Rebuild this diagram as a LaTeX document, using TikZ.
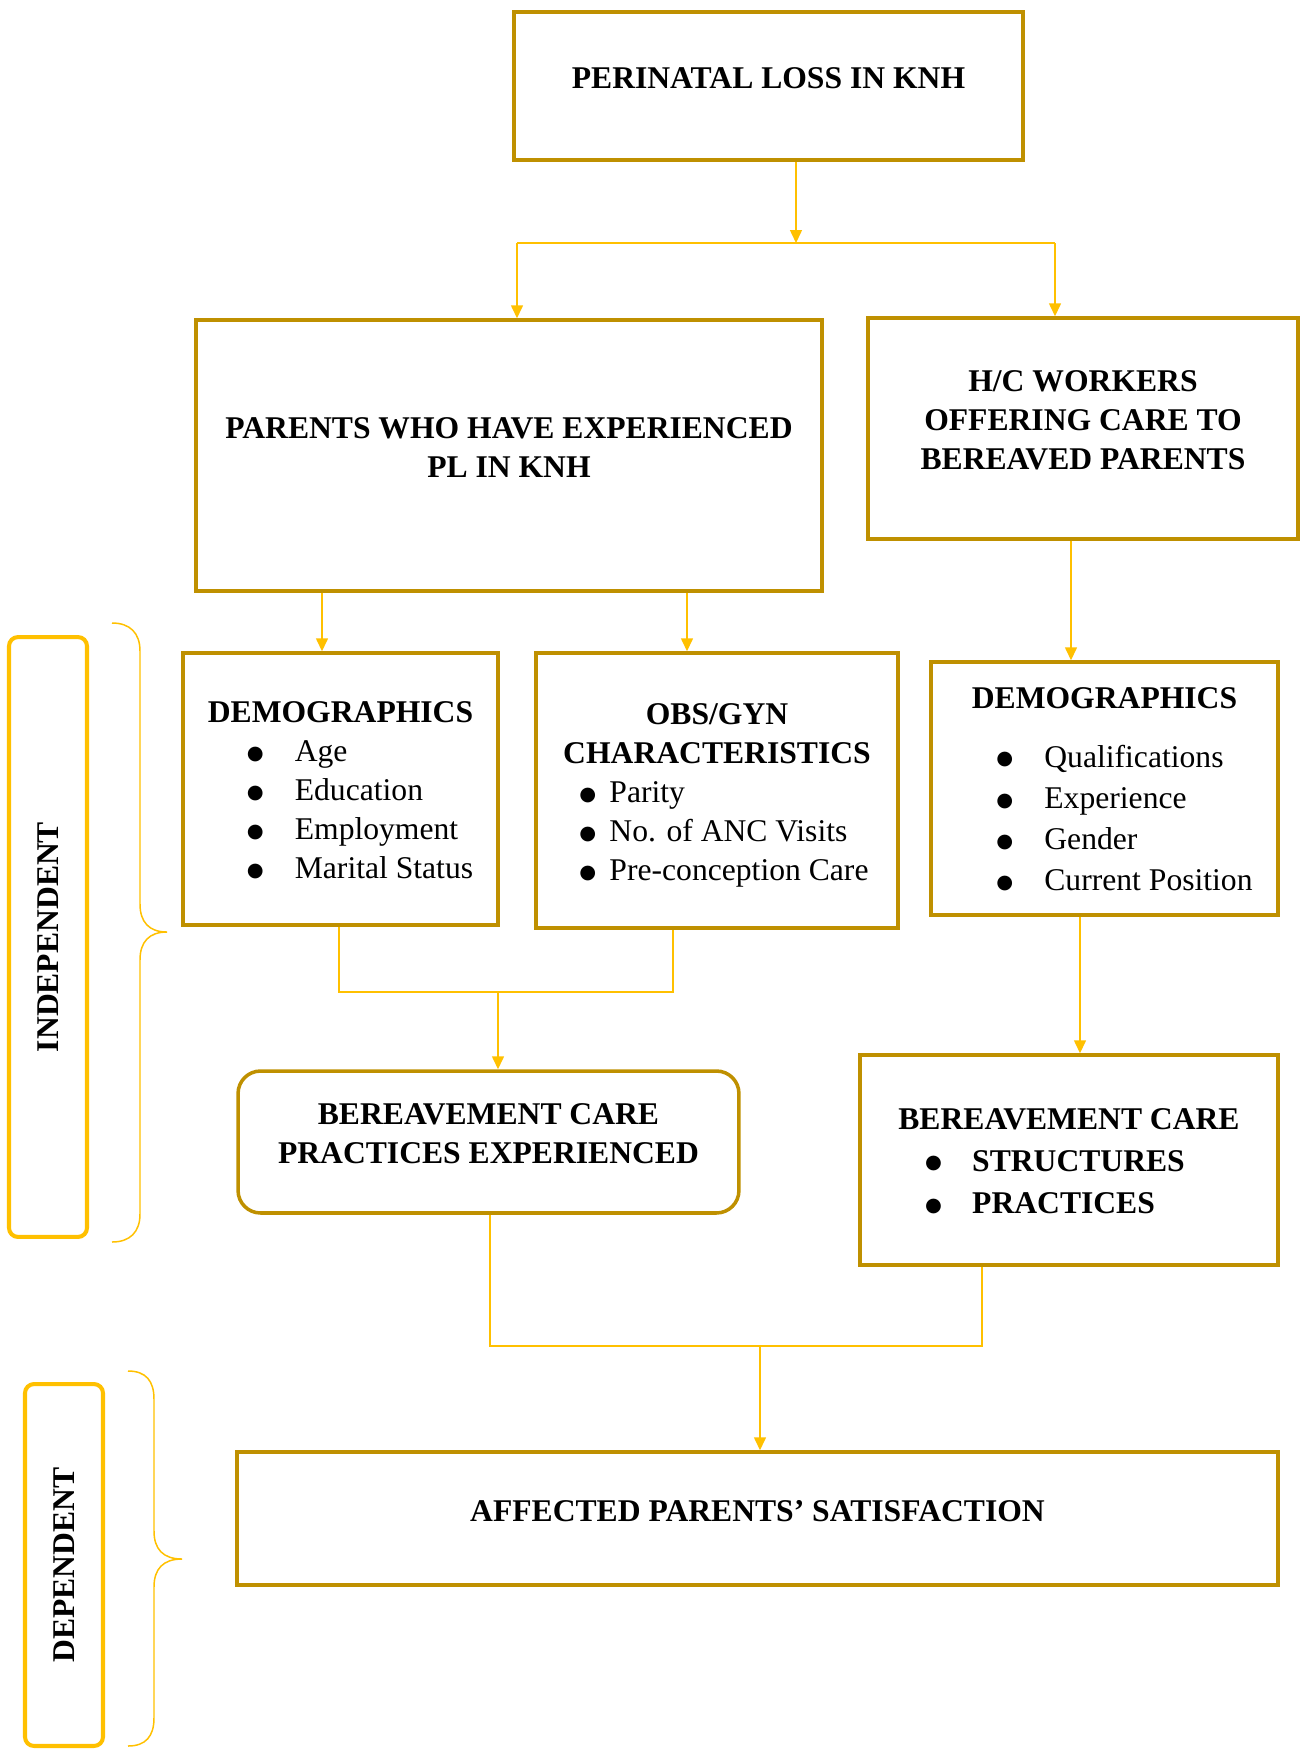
\documentclass[tikz,border=0pt]{standalone}
\usepackage{fontspec}
\setmainfont{Liberation Serif}
\newfontfamily\symfont{DejaVu Sans}
\usepackage{xcolor}
\usetikzlibrary{positioning, arrows.meta}
\definecolor{boxgold}{HTML}{BF9000}
\definecolor{linegold}{HTML}{FFC000}
\newcommand{\bigbullet}{\raisebox{1.3pt}{\fontsize{11}{0}\symfont ●}}

\begin{document}
\begin{tikzpicture}[
    x=0.02cm, y=-0.02cm,
    boxframe/.style={rectangle, draw=boxgold, line width=2pt, fill=white, align=center, inner sep=4pt, font={\fontsize{18}{22.2}\selectfont}},
    boldframe/.style={boxframe, font={\fontsize{18}{22.2}\selectfont\bfseries}},
    roundframe/.style={boldframe, rounded corners=0.45cm},
    lifted/.style={text depth=0.32cm},
    sidebox/.style={rectangle, draw=linegold, line width=2.3pt, rounded corners=0.18cm, align=center, font={\fontsize{18}{22.2}\selectfont\bfseries}, rotate=90},
    link/.style={draw=linegold, line width=0.85pt},
    arrow/.style={link, -{Triangle[length=0.26cm, width=0.24cm]}},
    bracepath/.style={draw=linegold, line width=0.85pt}
]
\useasboundingbox (0,0) rectangle (1300,1749);

% Top
\node[boldframe, lifted, minimum width=10.18cm, minimum height=2.96cm] (loss) at (768.5,86) {PERINATAL LOSS IN KNH};

% Parents and workers
\node[boldframe, lifted, minimum width=12.52cm, minimum height=5.42cm] (parents) at (509,455.5) {PARENTS WHO HAVE EXPERIENCED\\PL IN KNH};
\node[boldframe, lifted, minimum width=8.6cm, minimum height=4.42cm] (workers) at (1083,428.5) {H/C WORKERS\\OFFERING CARE TO\\BEREAVED PARENTS};

% Characteristics
\node[boxframe, minimum width=6.3cm, minimum height=5.44cm] (demo1) at (340.5,789) {\rule{0pt}{0.7cm}\textbf{DEMOGRAPHICS}\\\hspace*{0.78cm}\begin{tabular}[t]{@{}p{0.96cm}@{}l@{}}\bigbullet & Age\\ \bigbullet & Education\\ \bigbullet & Employment\\ \bigbullet & Marital Status\end{tabular}};
\node[boxframe, minimum width=7.24cm, minimum height=5.5cm] (obs) at (717,790.5) {\rule{0pt}{0.72cm}\textbf{OBS/GYN}\\\textbf{CHARACTERISTICS}\\\hspace*{0.28cm}\begin{tabular}[t]{@{}p{0.6cm}@{}l@{}}\bigbullet & Parity\\ \bigbullet & No. of ANC Visits\\ \bigbullet & Pre-conception Care\end{tabular}};
\node[boxframe, font={\fontsize{18}{23.5}\selectfont}, minimum width=6.94cm, minimum height=5.06cm] (demo2) at (1104.5,788.5) {\rule{0pt}{0.7cm}\textbf{DEMOGRAPHICS}\\[0.34cm]\hspace*{0.8cm}\begin{tabular}[t]{@{}p{0.96cm}@{}l@{}}\bigbullet & Qualifications\\ \bigbullet & Experience\\ \bigbullet & Gender\\ \bigbullet & Current Position\end{tabular}};

% Bereavement care
\node[roundframe, lifted, minimum width=10.02cm, minimum height=2.84cm] (bcexp) at (488.5,1142) {BEREAVEMENT CARE\\PRACTICES EXPERIENCED};
\node[boldframe, font={\fontsize{18}{24}\selectfont\bfseries}, minimum width=8.36cm, minimum height=4.2cm] (bcstr) at (1069,1160) {\rule{0pt}{0.7cm}BEREAVEMENT CARE\\\begin{tabular}[t]{@{}p{0.94cm}@{}l@{}}\bigbullet & STRUCTURES\\ \bigbullet & PRACTICES\end{tabular}\hspace*{0.56cm}};

% Outcome
\node[boldframe, lifted, minimum width=20.82cm, minimum height=2.66cm] (sat) at (757.5,1518.5) {AFFECTED PARENTS’ SATISFACTION};

% Side labels
\node[sidebox, minimum width=12cm, minimum height=1.56cm] (indep) at (48,937) {INDEPENDENT};
\node[sidebox, minimum width=7.24cm, minimum height=1.56cm] (dep) at (64,1565) {DEPENDENT};

\draw[bracepath] (112,623) .. controls (130,623) and (140,633) .. (140,651) -- (140,904) .. controls (140,922) and (149,932) .. (167,932) .. controls (149,932) and (140,942) .. (140,960) -- (140,1214) .. controls (140,1232) and (130,1242) .. (112,1242);
\draw[bracepath] (128,1371) .. controls (146,1371) and (154,1381) .. (154,1399) -- (154,1531) .. controls (154,1549) and (163,1559) .. (182,1559) .. controls (163,1559) and (154,1569) .. (154,1587) -- (154,1718) .. controls (154,1736) and (146,1746) .. (128,1746);

% Connections from top
\coordinate (split) at (796,243);
\coordinate (splitL) at (517,243);
\coordinate (splitR) at (1055,243);
\draw[arrow] (loss.south -| split) -- (split);
\draw[link] (splitL) -- (splitR);
\draw[arrow] (splitL) -- (parents.north -| splitL);
\draw[arrow] (splitR) -- (workers.north -| splitR);

% Connections to characteristics
\coordinate (pa) at (322,0);
\coordinate (pb) at (687,0);
\coordinate (wa) at (1071,0);
\draw[arrow] (parents.south -| pa) -- (demo1.north -| pa);
\draw[arrow] (parents.south -| pb) -- (obs.north -| pb);
\draw[arrow] (workers.south -| wa) -- (demo2.north -| wa);

% Connections to bereavement care
\coordinate (joinL) at (339,992);
\coordinate (joinR) at (673,992);
\coordinate (join) at (498,992);
\draw[link] (demo1.south -| joinL) -- (joinL) -- (joinR) -- (obs.south -| joinR);
\draw[arrow] (join) -- (bcexp.north -| join);
\coordinate (wb) at (1080,0);
\draw[arrow] (demo2.south -| wb) -- (bcstr.north -| wb);

% Connections to satisfaction
\coordinate (mergeL) at (490,1346);
\coordinate (mergeR) at (982,1346);
\coordinate (merge) at (760,1346);
\draw[link] (bcexp.south -| mergeL) -- (mergeL) -- (mergeR) -- (bcstr.south -| mergeR);
\draw[arrow] (merge) -- (sat.north -| merge);

\end{tikzpicture}
\end{document}
